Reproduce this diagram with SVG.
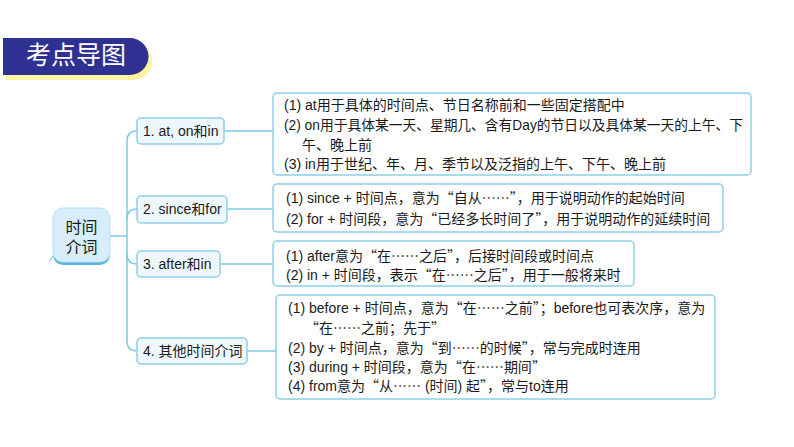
<svg xmlns="http://www.w3.org/2000/svg" width="794" height="447" viewBox="0 0 794 447">
<style>
.t{font-family:"Liberation Sans","Noto Sans CJK SC",sans-serif;font-size:14px;fill:#1a1a1a}
.c{font-family:"Noto Sans CJK SC",sans-serif}
.br{fill:#eef7fc;stroke:#8fd0e8;stroke-width:1.5}
.box{fill:#ffffff;stroke:#8fd0e8;stroke-width:1.5}
.ln{fill:none;stroke:#7ec8e3;stroke-width:1.5}
</style>
<rect width="794" height="447" fill="#ffffff"/>
<g id="title">
<path d="M6 42 H133 A19 19 0 0 1 133 80 H6 Z" fill="#fff3a0"/>
<path d="M3 38 H130 A18.5 18.5 0 0 1 130 75 H3 Z" fill="#2e3192"/>
<text x="76" y="64" text-anchor="middle" style="font-family:'Noto Sans CJK SC',sans-serif;font-size:25px;fill:#ffffff">考点导图</text>
</g>
<g id="connectors">
<path class="ln" d="M110 236 H127"/>
<path class="ln" d="M137 131 Q127 131 127 141 V341 Q127 351 137 351"/>
<path class="ln" d="M127 219 Q127 209 137 209"/>
<path class="ln" d="M127 254 Q127 264 137 264"/>
<path class="ln" d="M224 131 H273"/>
<path class="ln" d="M227 209 H273"/>
<path class="ln" d="M220 264 H273"/>
<path class="ln" d="M247 351 H276"/>
</g>
<g id="center">
<path d="M56 250 Q52 258 49 262" fill="none" stroke="#8fd0e8" stroke-width="1.2"/>
<rect x="53" y="210" width="57" height="55" rx="10" fill="#5ab8e0"/>
<rect x="53" y="208" width="57" height="54" rx="10" fill="#d7eefa" stroke="#b5e0f3" stroke-width="1"/>
<text class="t" x="81.5" y="233" text-anchor="middle" style="font-size:16px">时间</text>
<text class="t" x="81.5" y="253" text-anchor="middle" style="font-size:16px">介词</text>
</g>
<g id="b1">
<rect class="br" x="137" y="118" width="87" height="26" rx="4"/>
<text class="t" x="143" y="136">1. at, on和in</text>
</g>
<g id="b2">
<rect class="br" x="137" y="196" width="90" height="27" rx="4"/>
<text class="t" x="143" y="214">2. since和for</text>
</g>
<g id="b3">
<rect class="br" x="137" y="251" width="83" height="26" rx="4"/>
<text class="t" x="143" y="269">3. after和in</text>
</g>
<g id="b4">
<rect class="br" x="137" y="338" width="110" height="26" rx="4"/>
<text class="t" x="143" y="356">4. 其他时间介词</text>
</g>
<g id="d1">
<rect class="box" x="273" y="93" width="478" height="82" rx="4"/>
<text class="t" x="284" y="110">(1) at用于具体的时间点、节日名称前和一些固定搭配中</text>
<text class="t" x="284" y="130" textLength="459" lengthAdjust="spacingAndGlyphs">(2) on用于具体某一天、星期几、含有Day的节日以及具体某一天的上午、下</text>
<text class="t" x="302" y="150">午、晚上前</text>
<text class="t" x="284" y="169">(3) in用于世纪、年、月、季节以及泛指的上午、下午、晚上前</text>
</g>
<g id="d2">
<rect class="box" x="273" y="184" width="450" height="48" rx="4"/>
<text class="t" x="286" y="203">(1) since + 时间点，意为<tspan class="c">“</tspan>自从<tspan class="c">……”</tspan>，用于说明动作的起始时间</text>
<text class="t" x="286" y="224">(2) for + 时间段，意为<tspan class="c">“</tspan>已经多长时间了<tspan class="c">”</tspan>，用于说明动作的延续时间</text>
</g>
<g id="d3">
<rect class="box" x="273" y="241" width="361" height="45" rx="4"/>
<text class="t" x="286" y="261">(1) after意为<tspan class="c">“</tspan>在<tspan class="c">……</tspan>之后<tspan class="c">”</tspan>，后接时间段或时间点</text>
<text class="t" x="286" y="280">(2) in + 时间段，表示<tspan class="c">“</tspan>在<tspan class="c">……</tspan>之后<tspan class="c">”</tspan>，用于一般将来时</text>
</g>
<g id="d4">
<rect class="box" x="276" y="295" width="439" height="104" rx="4"/>
<text class="t" x="288" y="313">(1) before + 时间点，意为<tspan class="c">“</tspan>在<tspan class="c">……</tspan>之前<tspan class="c">”</tspan>；before也可表次序，意为</text>
<text class="t" x="305" y="333"><tspan class="c">“</tspan>在<tspan class="c">……</tspan>之前；先于<tspan class="c">”</tspan></text>
<text class="t" x="288" y="353">(2) by + 时间点，意为<tspan class="c">“</tspan>到<tspan class="c">……</tspan>的时候<tspan class="c">”</tspan>，常与完成时连用</text>
<text class="t" x="288" y="372">(3) during + 时间段，意为<tspan class="c">“</tspan>在<tspan class="c">……</tspan>期间<tspan class="c">”</tspan></text>
<text class="t" x="288" y="391">(4) from意为<tspan class="c">“</tspan>从<tspan class="c">……</tspan> (时间) 起<tspan class="c">”</tspan>，常与to连用</text>
</g>
</svg>
